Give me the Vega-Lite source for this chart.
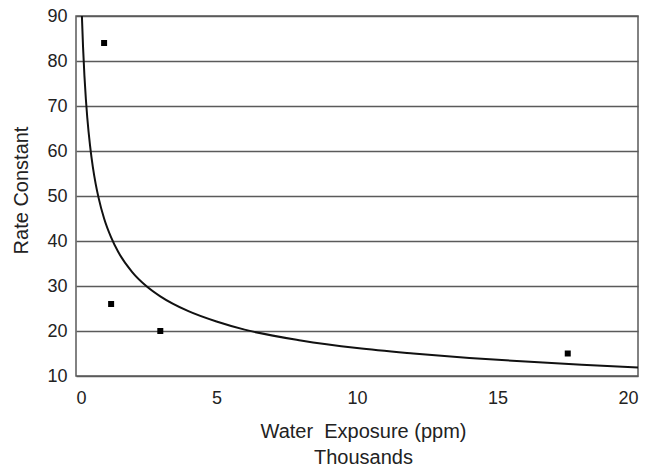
{
  "$schema": "https://vega.github.io/schema/vega-lite/v6.json",
  "autosize": {"type": "none"},
  "padding": {"left": 76, "top": 16, "right": 12, "bottom": 92},
  "width": 562,
  "height": 360,
  "background": "white",
  "config": {
    "view": {"stroke": "#5a5a5a", "strokeWidth": 1.5},
    "font": "Liberation Sans",
    "axis": {
      "labelFont": "Liberation Sans",
      "titleFont": "Liberation Sans",
      "labelFontSize": 18,
      "titleFontSize": 20,
      "labelColor": "#222",
      "titleColor": "#222",
      "titleFontWeight": "normal",
      "ticks": false,
      "domain": false
    }
  },
  "datasets": {
    "obs": [
      {"exposure": 1.0, "rate": 84},
      {"exposure": 1.25, "rate": 26},
      {"exposure": 3.0, "rate": 20},
      {"exposure": 17.5, "rate": 15}
    ],
    "fit": [
      {"exposure": 0.21, "rate": 90},
      {"exposure": 0.25, "rate": 83.2},
      {"exposure": 0.3, "rate": 76.7},
      {"exposure": 0.35, "rate": 71.6},
      {"exposure": 0.4, "rate": 67.5},
      {"exposure": 0.5, "rate": 61.2},
      {"exposure": 0.6, "rate": 56.4},
      {"exposure": 0.7, "rate": 52.7},
      {"exposure": 0.8, "rate": 49.7},
      {"exposure": 1.0, "rate": 45.0},
      {"exposure": 1.25, "rate": 40.8},
      {"exposure": 1.5, "rate": 37.6},
      {"exposure": 2.0, "rate": 33.1},
      {"exposure": 2.5, "rate": 30.0},
      {"exposure": 3.0, "rate": 27.7},
      {"exposure": 4.0, "rate": 24.4},
      {"exposure": 5.0, "rate": 22.1},
      {"exposure": 6.0, "rate": 20.3},
      {"exposure": 8.0, "rate": 17.9},
      {"exposure": 10.0, "rate": 16.2},
      {"exposure": 12.0, "rate": 15.0},
      {"exposure": 14.0, "rate": 14.0},
      {"exposure": 16.0, "rate": 13.2},
      {"exposure": 18.0, "rate": 12.5},
      {"exposure": 20.0, "rate": 11.9}
    ]
  },
  "layer": [
    {
      "data": {"name": "fit"},
      "mark": {"type": "line", "color": "#111", "strokeWidth": 2, "interpolate": "monotone", "clip": true},
      "encoding": {
        "x": {
          "field": "exposure", "type": "quantitative",
          "scale": {"domain": [0, 20], "nice": false},
          "axis": {
            "values": [0, 5, 10, 15, 20],
            "grid": false,
            "labelPadding": 13,
            "title": ["Water \u00a0Exposure (ppm)", "Thousands"],
            "titlePadding": 14,
            "titleLineHeight": 26,
            "titleX": 287
          }
        },
        "y": {
          "field": "rate", "type": "quantitative",
          "scale": {"domain": [10, 90], "nice": false, "zero": false},
          "axis": {
            "values": [10, 20, 30, 40, 50, 60, 70, 80, 90],
            "grid": true,
            "gridColor": "#5a5a5a",
            "gridWidth": 1.5,
            "gridOpacity": 1,
            "labelPadding": 9,
            "title": "Rate Constant",
            "titlePadding": 15,
            "titleY": 174
          }
        }
      }
    },
    {
      "data": {"name": "obs"},
      "mark": {"type": "point", "shape": "square", "filled": true, "color": "#000", "size": 36, "opacity": 1},
      "encoding": {
        "x": {"field": "exposure", "type": "quantitative"},
        "y": {"field": "rate", "type": "quantitative"}
      }
    }
  ]
}
